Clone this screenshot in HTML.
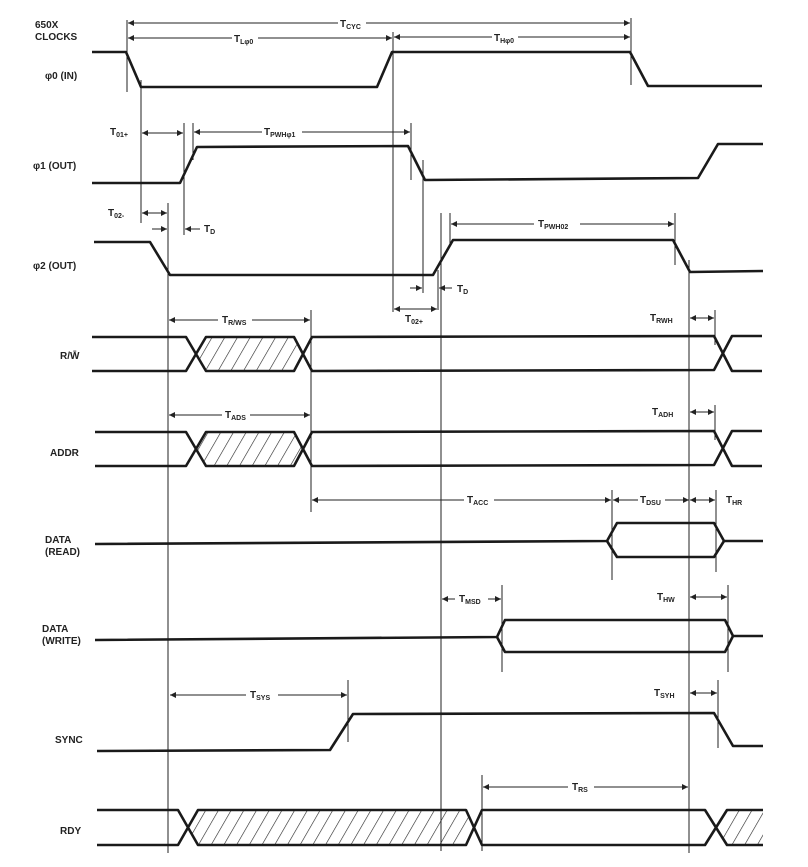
<!DOCTYPE html>
<html><head><meta charset="utf-8"><style>
html,body{margin:0;padding:0;background:#fff;}
svg{display:block;}
text{font-family:"Liberation Sans",sans-serif;font-size:10px;fill:#222;font-weight:bold;}
.s{fill:none;stroke:#1a1a1a;stroke-width:2.6;stroke-linejoin:round;}
.v{stroke:#222;stroke-width:1;fill:none;}
.d{stroke:#222;stroke-width:1;fill:none;}
.sub{font-size:7px;}
</style></head><body>
<svg width="808" height="867" viewBox="0 0 808 867" xmlns="http://www.w3.org/2000/svg">
<defs>
<marker id="a" viewBox="0 0 10 10" refX="10" refY="5" markerWidth="7" markerHeight="6" orient="auto-start-reverse" markerUnits="userSpaceOnUse"><path d="M0,0 L10,5 L0,10 z" fill="#222"/></marker>
<pattern id="h" width="11" height="10" patternUnits="userSpaceOnUse" patternTransform="rotate(30)"><line x1="0" y1="0" x2="0" y2="10" stroke="#222" stroke-width="1.2"/></pattern>
</defs>

<text x="35" y="28">650X</text><text x="35" y="40">CLOCKS</text>
<text x="45" y="79">φ0 (IN)</text>
<text x="33" y="169">φ1 (OUT)</text>
<text x="33" y="269">φ2 (OUT)</text>
<text x="60" y="359">R/W̄</text>
<text x="50" y="456">ADDR</text>
<text x="45" y="543">DATA</text><text x="45" y="555">(READ)</text>
<text x="42" y="632">DATA</text><text x="42" y="644">(WRITE)</text>
<text x="55" y="743">SYNC</text>
<text x="60" y="834">RDY</text>

<line class="v" x1="127" y1="20" x2="127" y2="92"/>
<line class="v" x1="141" y1="80" x2="141" y2="223"/>
<line class="v" x1="393" y1="32" x2="393" y2="312"/>
<line class="v" x1="631" y1="18" x2="631" y2="85"/>
<line class="v" x1="168" y1="203" x2="168" y2="853"/>
<line class="v" x1="184" y1="123" x2="184" y2="235"/>
<line class="v" x1="193" y1="123" x2="193" y2="160"/>
<line class="v" x1="411" y1="123" x2="411" y2="180"/>
<line class="v" x1="423" y1="160" x2="423" y2="293"/>
<line class="v" x1="438" y1="270" x2="438" y2="310"/>
<line class="v" x1="441" y1="213" x2="441" y2="851"/>
<line class="v" x1="450" y1="213" x2="450" y2="245"/>
<line class="v" x1="675" y1="213" x2="675" y2="265"/>
<line class="v" x1="689" y1="260" x2="689" y2="853"/>
<line class="v" x1="311" y1="310" x2="311" y2="512"/>
<line class="v" x1="715" y1="310" x2="715" y2="345"/>
<line class="v" x1="715" y1="405" x2="715" y2="440"/>
<line class="v" x1="612" y1="490" x2="612" y2="580"/>
<line class="v" x1="716" y1="490" x2="716" y2="572"/>
<line class="v" x1="502" y1="585" x2="502" y2="672"/>
<line class="v" x1="728" y1="585" x2="728" y2="672"/>
<line class="v" x1="348" y1="680" x2="348" y2="742"/>
<line class="v" x1="718" y1="680" x2="718" y2="748"/>
<line class="v" x1="482" y1="775" x2="482" y2="851"/>

<polyline class="s" points="92,52 126,52 141,87 377,87 392,52 630,52 648,86 762,86"/>
<polyline class="s" points="92,183 180,183 197,147 408,146 425,180 698,178 718,144 763,144"/>
<polyline class="s" points="94,242 150,242 170,275 433,275 453,240 673,240 690,272 763,271"/>

<polygon points="206,337 294,337 303,354 294,371 206,371 196,354" fill="url(#h)"/>
<polyline class="s" points="92,337 186,337 206,371 294,371 312,337 714,336 732,371 762,371"/>
<polyline class="s" points="92,371 186,371 206,337 294,337 312,371 714,370 732,336 762,336"/>
<polygon points="206,432 294,432 303,449 294,466 206,466 196,449" fill="url(#h)"/>
<polyline class="s" points="95,432 186,432 206,466 294,466 312,432 714,431 732,466 762,466"/>
<polyline class="s" points="95,466 186,466 206,432 294,432 312,466 714,465 732,431 762,431"/>
<polyline class="s" points="95,544 607,541 617,523 714,523 724,541 763,541"/>
<polyline class="s" points="607,541 617,557 714,557 724,541"/>
<polyline class="s" points="95,640 497,637 505,620 725,620 733,636 763,636"/>
<polyline class="s" points="497,637 505,652 725,652 733,636"/>
<polyline class="s" points="97,751 330,750 353,714 714,713 733,746 763,746"/>
<polygon points="198,810 466,810 474,827 466,845 198,845 188,827" fill="url(#h)"/>
<polygon points="727,810 763,810 763,845 727,845 716,827" fill="url(#h)"/>
<polyline class="s" points="97,810 178,810 198,845 466,845 482,810 705,810 727,845 763,845"/>
<polyline class="s" points="97,845 178,845 198,810 466,810 482,845 705,845 727,810 763,810"/>

<line class="d" x1="128" y1="23" x2="338" y2="23" marker-start="url(#a)"/>
<line class="d" x1="366" y1="23" x2="630" y2="23" marker-end="url(#a)"/>
<text x="340" y="27">T<tspan class="sub" dy="2">CYC</tspan></text>
<line class="d" x1="128" y1="38" x2="232" y2="38" marker-start="url(#a)"/>
<line class="d" x1="258" y1="38" x2="392" y2="38" marker-end="url(#a)"/>
<text x="234" y="42">T<tspan class="sub" dy="2">Lφ0</tspan></text>
<line class="d" x1="394" y1="37" x2="492" y2="37" marker-start="url(#a)"/>
<line class="d" x1="518" y1="37" x2="630" y2="37" marker-end="url(#a)"/>
<text x="494" y="41">T<tspan class="sub" dy="2">Hφ0</tspan></text>

<text x="110" y="135">T<tspan class="sub" dy="2">01+</tspan></text>
<line class="d" x1="142" y1="133" x2="183" y2="133" marker-start="url(#a)" marker-end="url(#a)"/>
<line class="d" x1="194" y1="132" x2="262" y2="132" marker-start="url(#a)"/>
<line class="d" x1="302" y1="132" x2="410" y2="132" marker-end="url(#a)"/>
<text x="264" y="135">T<tspan class="sub" dy="2">PWHφ1</tspan></text>

<text x="108" y="216">T<tspan class="sub" dy="2">02-</tspan></text>
<line class="d" x1="142" y1="213" x2="167" y2="213" marker-start="url(#a)" marker-end="url(#a)"/>
<line class="d" x1="152" y1="229" x2="167" y2="229" marker-end="url(#a)"/>
<line class="d" x1="200" y1="229" x2="185" y2="229" marker-end="url(#a)"/>
<text x="204" y="232">T<tspan class="sub" dy="2">D</tspan></text>

<line class="d" x1="451" y1="224" x2="534" y2="224" marker-start="url(#a)"/>
<line class="d" x1="580" y1="224" x2="674" y2="224" marker-end="url(#a)"/>
<text x="538" y="227">T<tspan class="sub" dy="2">PWH02</tspan></text>

<line class="d" x1="410" y1="288" x2="422" y2="288" marker-end="url(#a)"/>
<line class="d" x1="452" y1="288" x2="439" y2="288" marker-end="url(#a)"/>
<text x="457" y="292">T<tspan class="sub" dy="2">D</tspan></text>
<line class="d" x1="394" y1="309" x2="437" y2="309" marker-start="url(#a)" marker-end="url(#a)"/>
<text x="405" y="322">T<tspan class="sub" dy="2">02+</tspan></text>

<line class="d" x1="169" y1="320" x2="218" y2="320" marker-start="url(#a)"/>
<line class="d" x1="252" y1="320" x2="310" y2="320" marker-end="url(#a)"/>
<text x="222" y="323">T<tspan class="sub" dy="2">R/WS</tspan></text>
<text x="650" y="321">T<tspan class="sub" dy="2">RWH</tspan></text>
<line class="d" x1="690" y1="318" x2="714" y2="318" marker-start="url(#a)" marker-end="url(#a)"/>

<line class="d" x1="169" y1="415" x2="222" y2="415" marker-start="url(#a)"/>
<line class="d" x1="250" y1="415" x2="310" y2="415" marker-end="url(#a)"/>
<text x="225" y="418">T<tspan class="sub" dy="2">ADS</tspan></text>
<text x="652" y="415">T<tspan class="sub" dy="2">ADH</tspan></text>
<line class="d" x1="690" y1="412" x2="714" y2="412" marker-start="url(#a)" marker-end="url(#a)"/>

<line class="d" x1="312" y1="500" x2="464" y2="500" marker-start="url(#a)"/>
<line class="d" x1="494" y1="500" x2="611" y2="500" marker-end="url(#a)"/>
<text x="467" y="503">T<tspan class="sub" dy="2">ACC</tspan></text>
<line class="d" x1="613" y1="500" x2="638" y2="500" marker-start="url(#a)"/>
<line class="d" x1="665" y1="500" x2="689" y2="500" marker-end="url(#a)"/>
<text x="640" y="503">T<tspan class="sub" dy="2">DSU</tspan></text>
<line class="d" x1="690" y1="500" x2="715" y2="500" marker-start="url(#a)" marker-end="url(#a)"/>
<text x="726" y="503">T<tspan class="sub" dy="2">HR</tspan></text>

<line class="d" x1="442" y1="599" x2="455" y2="599" marker-start="url(#a)"/>
<line class="d" x1="488" y1="599" x2="501" y2="599" marker-end="url(#a)"/>
<text x="459" y="602">T<tspan class="sub" dy="2">MSD</tspan></text>
<text x="657" y="600">T<tspan class="sub" dy="2">HW</tspan></text>
<line class="d" x1="690" y1="597" x2="727" y2="597" marker-start="url(#a)" marker-end="url(#a)"/>

<line class="d" x1="170" y1="695" x2="246" y2="695" marker-start="url(#a)"/>
<line class="d" x1="278" y1="695" x2="347" y2="695" marker-end="url(#a)"/>
<text x="250" y="698">T<tspan class="sub" dy="2">SYS</tspan></text>
<text x="654" y="696">T<tspan class="sub" dy="2">SYH</tspan></text>
<line class="d" x1="690" y1="693" x2="717" y2="693" marker-start="url(#a)" marker-end="url(#a)"/>

<line class="d" x1="483" y1="787" x2="568" y2="787" marker-start="url(#a)"/>
<line class="d" x1="594" y1="787" x2="688" y2="787" marker-end="url(#a)"/>
<text x="572" y="790">T<tspan class="sub" dy="2">RS</tspan></text>
</svg>
</body></html>
